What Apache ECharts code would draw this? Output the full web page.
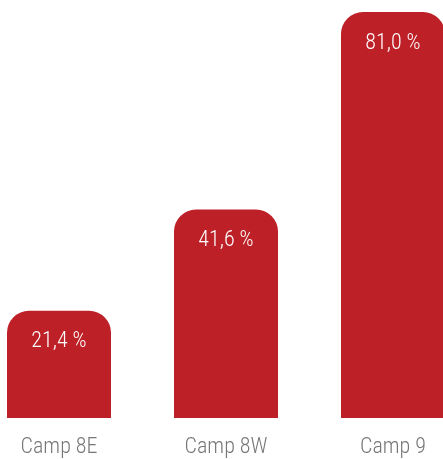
<!DOCTYPE html>
<html>
<head>
<meta charset="utf-8">
<style>
  html, body { margin: 0; padding: 0; background: #fff; }
  #chart { width: 443px; height: 459px; }
</style>
<script src="https://cdn.jsdelivr.net/npm/echarts@6/dist/echarts.min.js"></script>
</head>
<body>
<div id="chart"></div>
<script>
// Share per camp, in percent
const categories = ['Camp 8E', 'Camp 8W', 'Camp 9'];
const values = [21.4, 41.6, 81.0];

const FONT = '"Roboto Condensed", "Liberation Sans Narrow", "DejaVu Sans Condensed", sans-serif';
const chart = echarts.init(document.getElementById('chart'), null, { renderer: 'canvas' });

chart.setOption({
  animation: false,
  grid: { left: 59, right: 50, top: 12, bottom: 41 },
  xAxis: {
    type: 'category',
    data: categories,
    boundaryGap: false,
    axisLine: { show: false },
    axisTick: { show: false },
    axisLabel: {
      color: '#777777',
      fontSize: 22,
      fontWeight: 300,
      fontFamily: FONT,
      margin: 18
    }
  },
  yAxis: {
    type: 'value',
    min: 0,
    max: 81,
    show: false
  },
  series: [{
    type: 'bar',
    data: values,
    barWidth: 104,
    clip: false,
    itemStyle: { color: '#bd2027', borderRadius: [22, 22, 0, 0] },
    label: {
      show: true,
      position: 'insideTop',
      distance: 20,
      color: '#ffffff',
      fontSize: 22,
      fontWeight: 300,
      fontFamily: FONT,
      formatter: p => p.value.toFixed(1).replace('.', ',') + ' %'
    }
  }]
});
</script>
</body>
</html>
